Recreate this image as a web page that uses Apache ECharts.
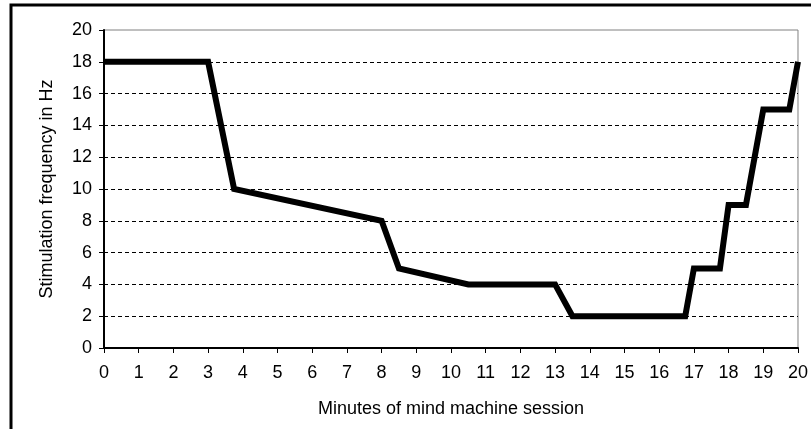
<!DOCTYPE html>
<html>
<head>
<meta charset="utf-8">
<script src="https://cdn.jsdelivr.net/npm/echarts@6/dist/echarts.min.js"></script>
<style>
html,body{margin:0;padding:0;background:#fff;}
#chart{width:811px;height:429px;}
</style>
</head>
<body>
<div id="chart"></div>
<script>
// Data
const minutes = [0, 3, 3.75, 8, 8.5, 10.5, 13, 13.5, 16.75, 17, 17.75, 18, 18.5, 19, 19.75, 20];
const frequencyHz = [18, 18, 10, 8, 5, 4, 4, 2, 2, 5, 5, 9, 9, 15, 15, 18];
const xTitle = 'Minutes of mind machine session';
const yTitle = 'Stimulation frequency in Hz';

const points = minutes.map((m, i) => [m, frequencyHz[i]]);
const font = 'Liberation Sans, Arial, sans-serif';

const chart = echarts.init(document.getElementById('chart'), null, {renderer: 'canvas'});
chart.setOption({
  animation: false,
  backgroundColor: '#fff',
  graphic: [{
    type: 'rect',
    shape: {x: 11, y: 5, width: 1000, height: 1000},
    style: {fill: 'none', stroke: '#000', lineWidth: 3},
    silent: true, z: 100
  }],
  grid: {
    left: 104, top: 30, right: 13, bottom: 81,
    show: true, borderColor: '#808080', borderWidth: 1, backgroundColor: '#fff'
  },
  xAxis: {
    type: 'value', min: 0, max: 20, interval: 1,
    name: xTitle, nameLocation: 'middle', nameGap: 52,
    nameTextStyle: {fontFamily: font, fontSize: 18, color: '#000'},
    axisLine: {show: true, onZero: false, lineStyle: {color: '#000', width: 2}},
    axisTick: {show: true, length: 5, lineStyle: {color: '#000', width: 1}},
    axisLabel: {fontFamily: font, fontSize: 18, color: '#000', margin: 16},
    splitLine: {show: false}
  },
  yAxis: {
    type: 'value', min: 0, max: 20, interval: 2,
    name: yTitle, nameLocation: 'middle', nameGap: 48, nameRotate: 90,
    nameTextStyle: {fontFamily: font, fontSize: 18, color: '#000'},
    axisLine: {show: true, lineStyle: {color: '#000', width: 2}},
    axisTick: {show: true, length: 5, lineStyle: {color: '#000', width: 1}},
    axisLabel: {fontFamily: font, fontSize: 18, color: '#000', margin: 12},
    splitLine: {show: true, showMinLine: false, showMaxLine: false,
      lineStyle: {color: '#000', width: 1, type: [4, 3]}}
  },
  series: [{
    type: 'line',
    data: points,
    showSymbol: false,
    symbol: 'none',
    lineStyle: {color: '#000', width: 6, join: 'miter', cap: 'butt'},
    z: 5
  }]
});
</script>
</body>
</html>
